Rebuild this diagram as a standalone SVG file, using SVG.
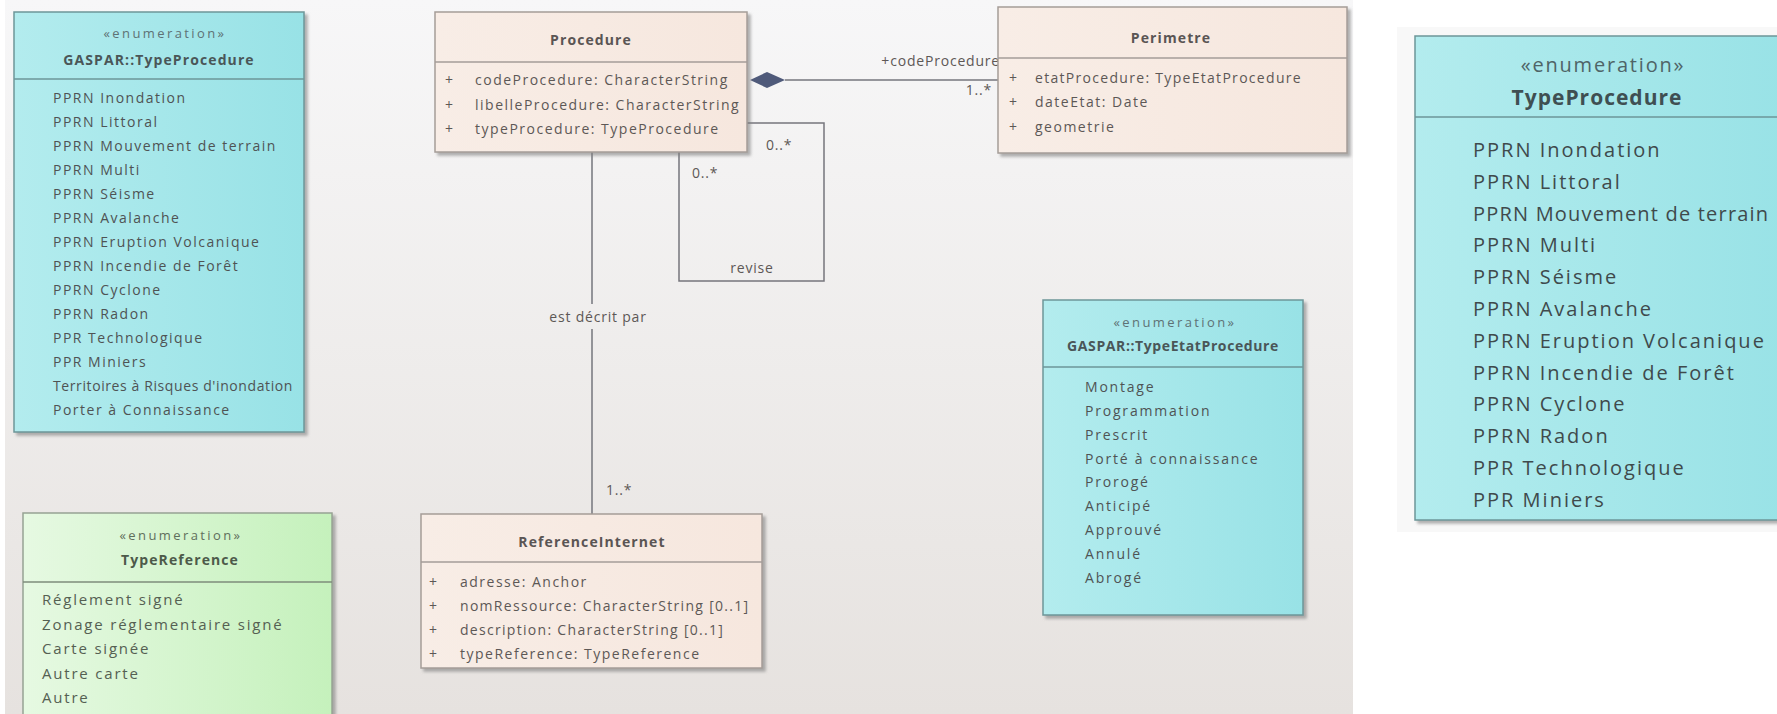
<svg xmlns="http://www.w3.org/2000/svg" width="1777" height="714" viewBox="0 0 1777 714">
<defs>
<linearGradient id="bgG" x1="0" y1="0" x2="0" y2="1">
<stop offset="0" stop-color="#f7f7f8"/>
<stop offset="1" stop-color="#e6e2df"/>
</linearGradient>
<linearGradient id="cyanG" x1="0" y1="0" x2="1" y2="0">
<stop offset="0" stop-color="#b3ecee"/>
<stop offset="1" stop-color="#98e2e6"/>
</linearGradient>
<linearGradient id="peachG" x1="0" y1="0" x2="1" y2="0">
<stop offset="0" stop-color="#f8ede6"/>
<stop offset="1" stop-color="#f6e7de"/>
</linearGradient>
<linearGradient id="greenG" x1="0" y1="0" x2="1" y2="0">
<stop offset="0" stop-color="#e6f9e2"/>
<stop offset="1" stop-color="#c5f1bc"/>
</linearGradient>
<filter id="sh" x="-5%" y="-5%" width="115%" height="115%">
<feDropShadow dx="3" dy="3" stdDeviation="1.5" flood-color="#7f7f7f" flood-opacity="0.6"/>
</filter>
<marker id="diamond" viewBox="0 0 36 18" refX="0" refY="9" markerWidth="36" markerHeight="18" markerUnits="userSpaceOnUse" orient="auto">
<path d="M0,9 L18,1 L36,9 L18,17 Z" fill="#4f5a7a"/>
</marker>
</defs>
<style>
.cy{fill:url(#cyanG);stroke:#6d9699;stroke-width:1.5}
.pe{fill:url(#peachG);stroke:#a59d98;stroke-width:1.5}
.gr{fill:url(#greenG);stroke:#97a394;stroke-width:1.5}
.dv{stroke-width:1.5}
.dvc{stroke:#6d9699}
.dvp{stroke:#a59d98}
.dvg{stroke:#7e8c7b}
text{font-family:"Open Sans","Liberation Sans",sans-serif}
.st{font-size:13px;letter-spacing:2.4px;fill:#5e7275;text-anchor:middle}
.ti{font-size:14px;font-weight:bold;letter-spacing:1.1px;fill:#4a5658;text-anchor:middle}
.tp{font-size:14px;font-weight:bold;letter-spacing:1.1px;fill:#5a5554;text-anchor:middle}
.it{font-size:14px;letter-spacing:1.5px;fill:#4f5354}
.ia{font-size:14px;letter-spacing:1.5px;fill:#5d5856}
.ie{font-size:14px;letter-spacing:1.8px;fill:#4f5354}
.ir{font-size:15px;letter-spacing:1.8px;fill:#556052}
.pl{font-size:14px;fill:#5d5856}
.cn{fill:none;stroke:#75767c;stroke-width:1.5}
.lb{font-size:14px;letter-spacing:0.8px;fill:#5d5856}
.bst{font-size:20px;letter-spacing:1.8px;fill:#4f6467;text-anchor:middle}
.bti{font-size:21px;font-weight:bold;letter-spacing:1px;fill:#3f4f52;text-anchor:middle}
.bit{font-size:20px;letter-spacing:2px;fill:#3f4a4c}
</style>
<rect x="0" y="0" width="1777" height="714" fill="#ffffff"/>
<rect x="5" y="0" width="1348" height="714" fill="url(#bgG)"/>
<rect x="1397" y="27" width="380" height="505" fill="#f8f8f8"/>

<g id="connectors">
<line class="cn" x1="785" y1="80" x2="998" y2="80"/>
<path d="M750,80 L767,72 L785,80 L767,88 Z" fill="#4f5a7a"/>
<text class="lb" x="1000" y="66" text-anchor="end">+codeProcedure</text>
<text class="lb" x="992" y="95" text-anchor="end">1..*</text>
<line class="cn" x1="592" y1="152" x2="592" y2="304"/>
<line class="cn" x1="592" y1="329" x2="592" y2="514"/>
<text class="lb" x="598" y="322" text-anchor="middle">est décrit par</text>
<text class="lb" x="606" y="495">1..*</text>
<path class="cn" d="M747,123 L824,123 L824,281 L679,281 L679,152"/>
<text class="lb" x="766" y="150">0..*</text>
<text class="lb" x="692" y="178">0..*</text>
<text class="lb" x="752" y="273" text-anchor="middle">revise</text>
</g>

<g id="node-gaspar-typeprocedure">
<rect class="cy" x="14" y="12" width="290" height="420" filter="url(#sh)"/>
<line class="dv dvc" x1="14" y1="79" x2="304" y2="79"/>
<text class="st" x="165" y="38">«enumeration»</text>
<text class="ti" x="159" y="65">GASPAR::TypeProcedure</text>
<text class="it" x="53" y="103">PPRN Inondation</text>
<text class="it" x="53" y="127">PPRN Littoral</text>
<text class="it" x="53" y="151">PPRN Mouvement de terrain</text>
<text class="it" x="53" y="175">PPRN Multi</text>
<text class="it" x="53" y="199">PPRN Séisme</text>
<text class="it" x="53" y="223">PPRN Avalanche</text>
<text class="it" x="53" y="247">PPRN Eruption Volcanique</text>
<text class="it" x="53" y="271">PPRN Incendie de Forêt</text>
<text class="it" x="53" y="295">PPRN Cyclone</text>
<text class="it" x="53" y="319">PPRN Radon</text>
<text class="it" x="53" y="343">PPR Technologique</text>
<text class="it" x="53" y="367">PPR Miniers</text>
<text class="it" x="53" y="391" style="letter-spacing:0.6px">Territoires à Risques d'inondation</text>
<text class="it" x="53" y="415">Porter à Connaissance</text>
</g>

<g id="node-procedure">
<rect class="pe" x="435" y="12" width="312" height="140" filter="url(#sh)"/>
<line class="dv dvp" x1="435" y1="62" x2="747" y2="62"/>
<text class="tp" x="591" y="45">Procedure</text>
<text class="pl" x="445" y="85">+</text>
<text class="ia" x="475" y="85">codeProcedure: CharacterString</text>
<text class="pl" x="445" y="110">+</text>
<text class="ia" x="475" y="110">libelleProcedure: CharacterString</text>
<text class="pl" x="445" y="134">+</text>
<text class="ia" x="475" y="134">typeProcedure: TypeProcedure</text>
</g>

<g id="node-perimetre">
<rect class="pe" x="998" y="7" width="349" height="146" filter="url(#sh)"/>
<line class="dv dvp" x1="998" y1="58" x2="1347" y2="58"/>
<text class="tp" x="1171" y="43">Perimetre</text>
<text class="pl" x="1009" y="83">+</text>
<text class="ia" x="1035" y="83" style="letter-spacing:1.3px">etatProcedure: TypeEtatProcedure</text>
<text class="pl" x="1009" y="107">+</text>
<text class="ia" x="1035" y="107">dateEtat: Date</text>
<text class="pl" x="1009" y="132">+</text>
<text class="ia" x="1035" y="132">geometrie</text>
</g>

<g id="node-typeetatprocedure">
<rect class="cy" x="1043" y="300" width="260" height="315" filter="url(#sh)"/>
<line class="dv dvc" x1="1043" y1="367" x2="1303" y2="367"/>
<text class="st" x="1175" y="327">«enumeration»</text>
<text class="ti" x="1173" y="351" style="letter-spacing:0.6px">GASPAR::TypeEtatProcedure</text>
<text class="ie" x="1085" y="392">Montage</text>
<text class="ie" x="1085" y="416">Programmation</text>
<text class="ie" x="1085" y="440">Prescrit</text>
<text class="ie" x="1085" y="464">Porté à connaissance</text>
<text class="ie" x="1085" y="487">Prorogé</text>
<text class="ie" x="1085" y="511">Anticipé</text>
<text class="ie" x="1085" y="535">Approuvé</text>
<text class="ie" x="1085" y="559">Annulé</text>
<text class="ie" x="1085" y="583">Abrogé</text>
</g>

<g id="node-typereference">
<rect class="gr" x="23" y="513" width="309" height="220" filter="url(#sh)"/>
<line class="dv dvg" x1="23" y1="582" x2="332" y2="582"/>
<text class="st" x="181" y="540" style="fill:#5f6f5c">«enumeration»</text>
<text class="ti" x="180" y="565" style="fill:#4d5a4a">TypeReference</text>
<text class="ir" x="42" y="605">Réglement signé</text>
<text class="ir" x="42" y="630">Zonage réglementaire signé</text>
<text class="ir" x="42" y="654">Carte signée</text>
<text class="ir" x="42" y="679">Autre carte</text>
<text class="ir" x="42" y="703">Autre</text>
</g>

<g id="node-referenceinternet">
<rect class="pe" x="421" y="514" width="341" height="154" filter="url(#sh)"/>
<line class="dv dvp" x1="421" y1="562" x2="762" y2="562"/>
<text class="tp" x="592" y="547">ReferenceInternet</text>
<text class="pl" x="429" y="587">+</text>
<text class="ia" x="460" y="587">adresse: Anchor</text>
<text class="pl" x="429" y="611">+</text>
<text class="ia" x="460" y="611" style="letter-spacing:1.3px">nomRessource: CharacterString [0..1]</text>
<text class="pl" x="429" y="635">+</text>
<text class="ia" x="460" y="635" style="letter-spacing:1.3px">description: CharacterString [0..1]</text>
<text class="pl" x="429" y="659">+</text>
<text class="ia" x="460" y="659">typeReference: TypeReference</text>
</g>

<g id="node-typeprocedure">
<rect class="cy" x="1415" y="36" width="380" height="484" filter="url(#sh)"/>
<line class="dv dvc" x1="1415" y1="117" x2="1777" y2="117"/>
<text class="bst" x="1603" y="72">«enumeration»</text>
<text class="bti" x="1597" y="105">TypeProcedure</text>
<text class="bit" x="1473" y="157">PPRN Inondation</text>
<text class="bit" x="1473" y="189">PPRN Littoral</text>
<text class="bit" x="1473" y="221" style="letter-spacing:1.2px">PPRN Mouvement de terrain</text>
<text class="bit" x="1473" y="252">PPRN Multi</text>
<text class="bit" x="1473" y="284">PPRN Séisme</text>
<text class="bit" x="1473" y="316">PPRN Avalanche</text>
<text class="bit" x="1473" y="348">PPRN Eruption Volcanique</text>
<text class="bit" x="1473" y="380">PPRN Incendie de Forêt</text>
<text class="bit" x="1473" y="411">PPRN Cyclone</text>
<text class="bit" x="1473" y="443">PPRN Radon</text>
<text class="bit" x="1473" y="475">PPR Technologique</text>
<text class="bit" x="1473" y="507">PPR Miniers</text>
</g>
</svg>
